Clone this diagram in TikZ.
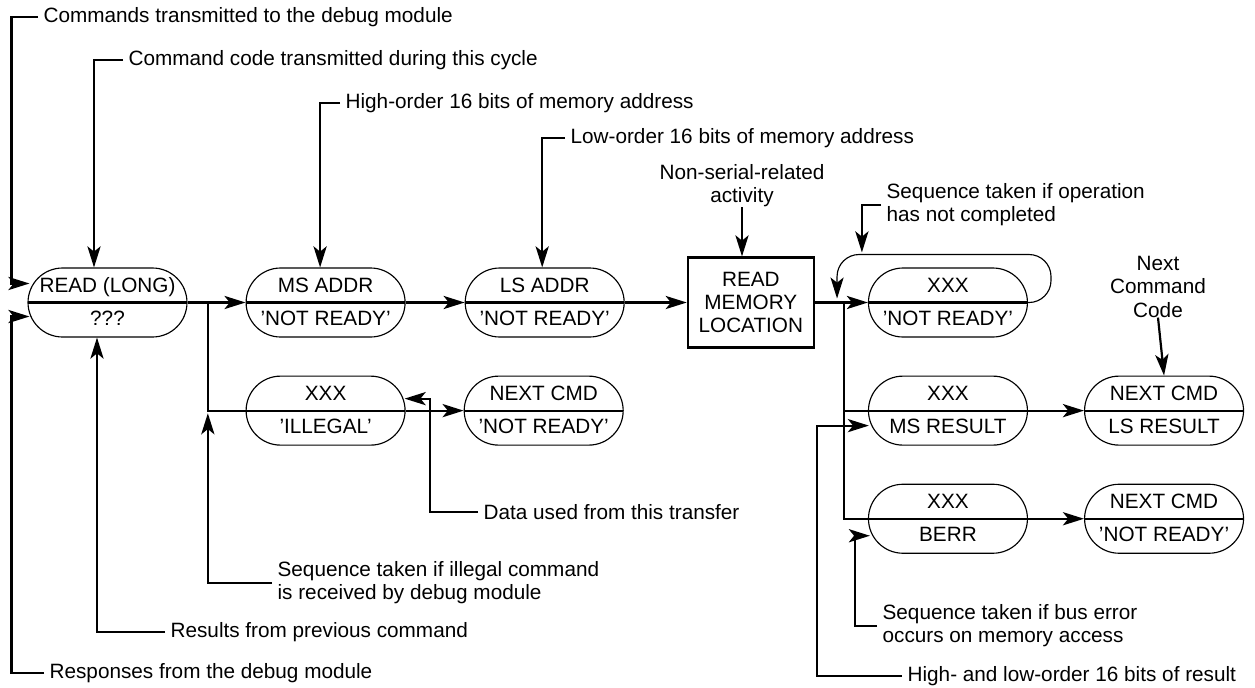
\documentclass[tikz,border=0pt]{standalone}
\usepackage{fontspec}
\setmainfont{Liberation Sans}
\usepackage{tikz}
\usetikzlibrary{arrows.meta,positioning,calc}

\newcommand{\ovaltext}[2]{\strut #1\\\strut #2}

\begin{document}
\begin{tikzpicture}[
    x=0.02cm, y=-0.02cm,
    font=\fontsize{11.8}{13.2}\selectfont,
    pill/.style={draw, line width=0.65pt, rounded corners=0.69cm, minimum width=3.18cm, minimum height=1.38cm, inner sep=0pt, align=center, font=\fontsize{11.8}{18.5}\selectfont,
        path picture={\draw[line width=1.25pt] (path picture bounding box.west) -- (path picture bounding box.east);}},
    block/.style={rectangle, draw, line width=1.25pt, minimum width=2.52cm, minimum height=1.8cm, inner sep=0pt, align=center},
    note/.style={inner xsep=3pt, inner ysep=0pt, align=left},
    wire/.style={draw, line width=1.25pt},
    line/.style={draw, line width=1.25pt, -{Stealth[length=12pt, width=7.5pt, inset=3pt]}},
    loopline/.style={draw, line width=0.65pt, rounded corners=0.44cm, -{Stealth[length=12pt, width=7.5pt, inset=3pt]}}
]
    \useasboundingbox (0,0) rectangle (1255,687);

    \node [pill] (read) at (107.5,302.5) {\ovaltext{READ (LONG)}{???}};
    \node [pill, right=1.16cm of read] (msaddr) {\ovaltext{MS ADDR}{'NOT READY'}};
    \node [pill, right=1.18cm of msaddr] (lsaddr) {\ovaltext{LS ADDR}{'NOT READY'}};
    \node [block, right=1.24cm of lsaddr] (readmem) {READ\\MEMORY\\LOCATION};
    \node [pill, right=1.06cm of readmem] (waitnr) {\ovaltext{XXX}{'NOT READY'}};
    \node [pill, below=0.76cm of msaddr] (illegal) {\ovaltext{XXX}{'ILLEGAL'}};
    \node [pill, right=1.16cm of illegal] (nextill) {\ovaltext{NEXT CMD}{'NOT READY'}};
    \node [pill, below=0.76cm of waitnr] (msres) {\ovaltext{XXX}{MS RESULT}};
    \node [pill, right=1.12cm of msres] (lsres) {\ovaltext{NEXT CMD}{LS RESULT}};
    \node [pill, below=0.76cm of msres] (berr) {\ovaltext{XXX}{BERR}};
    \node [pill, right=1.12cm of berr] (nextberr) {\ovaltext{NEXT CMD}{'NOT READY'}};

    \node [note, anchor=west] (cmdsent) at (38,17) {Commands transmitted to the debug module};
    \node [note, anchor=west] (cmdcode) at (123,60) {Command code transmitted during this cycle};
    \node [note, anchor=west] (hiaddr) at (340,103) {High-order 16 bits of memory address};
    \node [note, anchor=west] (loaddr) at (565,138) {Low-order 16 bits of memory address};
    \node [note, align=center, anchor=north] (nonserial) at (742,164) {Non-serial-related\\activity};
    \node [note, anchor=west] (seqop) at (881,205) {Sequence taken if operation\\has not completed};
    \node [note, align=center, anchor=north] (nextcode) at (1158,256) {Next\\Command\\Code};
    \node [note, anchor=west] (dataused) at (478,512) {Data used from this transfer};
    \node [note, anchor=west] (seqill) at (272,583) {Sequence taken if illegal command\\is received by debug module};
    \node [note, anchor=west] (seqbus) at (877,626) {Sequence taken if bus error\\occurs on memory access};
    \node [note, anchor=west] (results) at (165,632) {Results from previous command};
    \node [note, anchor=west] (responses) at (44,673) {Responses from the debug module};
    \node [note, anchor=west] (hilo) at (902,676) {High- and low-order 16 bits of result};

    \coordinate (fork) at ($(read.east)!0.35!(msaddr.west)$);
    \coordinate (split) at ($(readmem.east)!0.55!(waitnr.west)$);
    \coordinate (loopin) at ($(split)+(-7,-4)$);

    \path [line] (read) -- (msaddr);
    \path [line] (msaddr) -- (lsaddr);
    \path [line] (lsaddr) -- (readmem);
    \path [line] (readmem) -- (waitnr);
    \path [wire] (fork) |- (illegal.west);
    \path [line] (illegal) -- (nextill);
    \path [wire] (split) |- (msres.west);
    \path [wire] (split) |- (berr.west);
    \path [line] (msres) -- (lsres);
    \path [line] (berr) -- (nextberr);
    \path [loopline] (waitnr.east) -- ++(23,0) -- ++(0,-48) -| (loopin);

    \path [line] (cmdsent.west) -| ([shift={(-16,-19)}]read.west) -- ([shift={(2,-19)}]read.west);
    \path [line] (responses.west) -| ([shift={(-16,14)}]read.west) -- ([shift={(2,14)}]read.west);
    \path [line] (cmdcode.west) -| ([xshift=-0.27cm]read.north);
    \path [line] (results.west) -| ([xshift=-0.21cm]read.south);
    \path [line] (hiaddr.west) -| ([xshift=-0.11cm]msaddr.north);
    \path [line] (loaddr.west) -| ([xshift=-0.05cm]lsaddr.north);
    \path [line] (nonserial.south) -- (nonserial.south |- readmem.north);
    \path [line] (seqop.west) -| ([shift={(-6,-15)}]waitnr.north west);
    \path [line] (nextcode.south) -- (lsres.north);
    \path [line] (dataused.west) -| ([shift={(24,-12)}]illegal.east) -- ([shift={(-1,-12)}]illegal.east);
    \path [line] (seqill.west) -| ([yshift=-1.5pt]fork |- illegal.west);
    \path [line] (seqbus.west) -| ([shift={(-13,17)}]berr.west) -- ([shift={(2,17)}]berr.west);
    \path [line] (hilo.west) -| ([shift={(-51,15)}]msres.west) -- ([shift={(1,15)}]msres.west);
\end{tikzpicture}
\end{document}
